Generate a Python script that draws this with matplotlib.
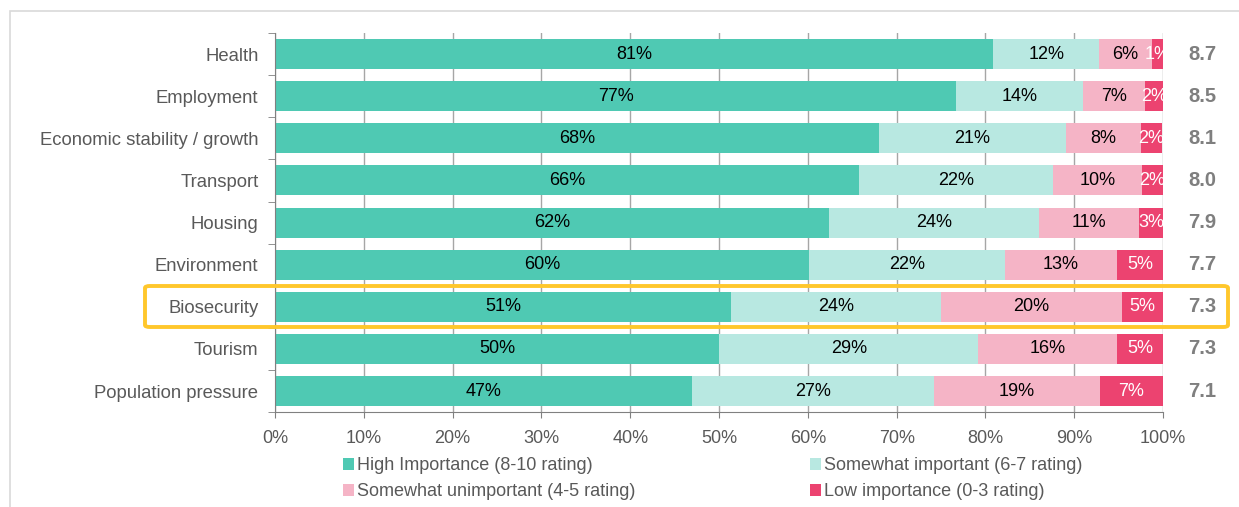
import matplotlib.pyplot as plt
import numpy as np
from matplotlib.patches import Rectangle, FancyBboxPatch

plt.rcParams["font.family"] = ["Liberation Sans", "DejaVu Sans"]

# data (percent shares)
categories = ["Health", "Employment", "Economic stability / growth", "Transport",
              "Housing", "Environment", "Biosecurity", "Tourism", "Population pressure"]
high = [80.9, 76.7, 68.0, 65.8, 62.4, 60.1, 51.4, 50.0, 47.0]
somewhat = [11.9, 14.3, 21.1, 21.8, 23.6, 22.1, 23.6, 29.2, 27.2]
unimportant = [5.9, 7.0, 8.4, 10.0, 11.3, 12.6, 20.4, 15.6, 18.7]
low = [1.3, 2.0, 2.4, 2.4, 2.7, 5.2, 4.6, 5.2, 7.1]
scores = ["8.7", "8.5", "8.1", "8.0", "7.9", "7.7", "7.3", "7.3", "7.1"]

series = [high, somewhat, unimportant, low]
names = ["High Importance (8-10 rating)", "Somewhat important (6-7 rating)",
         "Somewhat unimportant (4-5 rating)", "Low importance (0-3 rating)"]
colors = ["#4FC9B3", "#B8E8E1", "#F5B4C6", "#EC4370"]
text_colors = ["black", "black", "black", "white"]

fig = plt.figure(figsize=(12.39, 5.07), dpi=100)
ax = fig.add_axes([0.222, 0.187, 0.7167, 0.748])

y = np.arange(len(categories))
left = np.zeros(len(categories))
handles = []
for vals, col, tcol, name in zip(series, colors, text_colors, names):
    vals = np.array(vals)
    b = ax.barh(y, vals, left=left, height=0.71, color=col, label=name, zorder=2)
    handles.append(b)
    for yi, l, v in zip(y, left, vals):
        ax.text(l + v / 2, yi, f"{v:.0f}%", ha="center", va="center",
                color=tcol, fontsize=13, zorder=3, clip_on=True)
    left += vals

for yi, s in zip(y, scores):
    ax.text(104.4, yi, s, ha="center", va="center", color="#7F7F7F",
            fontsize=14.5, fontweight="bold", clip_on=False)

ax.set_xlim(0, 100)
ax.set_ylim(len(categories) - 0.5, -0.5)
ax.set_yticks(y)
ax.set_yticklabels(categories, fontsize=13.3, color="#595959")
ax.set_yticks(np.arange(-0.5, len(categories)), minor=True)
ax.tick_params(axis="y", which="major", length=0, pad=12)
ax.tick_params(axis="y", which="minor", length=5, color="#808080", direction="out")
ax.set_xticks(np.arange(0, 101, 10))
ax.set_xticklabels([f"{v}%" for v in range(0, 101, 10)], fontsize=13, color="#595959")
ax.tick_params(axis="x", length=4, color="#808080", pad=9)
ax.grid(axis="x", color="#A6A6A6", linewidth=1, zorder=0)
ax.set_axisbelow(True)
for side in ["top", "right"]:
    ax.spines[side].set_visible(False)
for side in ["left", "bottom"]:
    ax.spines[side].set_color("#808080")

# highlight box around Biosecurity
fig.patches.append(FancyBboxPatch((145 / 1239, 1 - 327 / 507), (1228 - 145) / 1239, 41 / 507,
                                  boxstyle="round,pad=0,rounding_size=0.004",
                                  transform=fig.transFigure, fill=False,
                                  edgecolor="#FFC72C", linewidth=2.8, zorder=5))
# outer frame
fig.patches.append(Rectangle((10 / 1239, -0.1), 1.2, 1.1 - 11 / 507,
                             transform=fig.transFigure, fill=False,
                             edgecolor="#D9D9D9", linewidth=1.2))

# legend filled row by row like the reference
order = [0, 2, 1, 3]
fig.legend(handles=[handles[i] for i in order], labels=[names[i] for i in order],
           loc="upper left", bbox_to_anchor=(343 / 1239, 0.098), ncol=2,
           frameon=False, fontsize=13, handlelength=0.6, handleheight=0.6,
           handletextpad=0.2, columnspacing=9.65, labelspacing=0.5,
           labelcolor="#595959", borderaxespad=0, borderpad=0)

fig.savefig("out.png", dpi=100)
